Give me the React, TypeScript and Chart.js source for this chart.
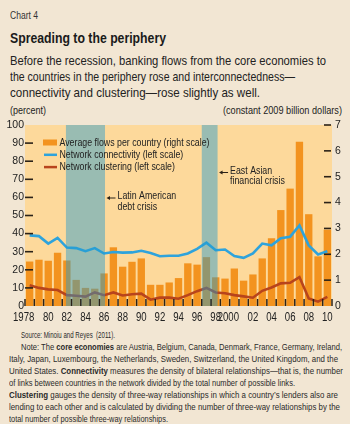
import React, { useEffect, useLayoutEffect, useRef } from 'react';
import { Chart, registerables } from 'chart.js';

Chart.register(...registerables);

const FONT = '"Liberation Sans", Arial, sans-serif';
const SX = 0.8; // horizontal condensing of canvas text

const years = ['1978','1979','1980','1981','1982','1983','1984','1985','1986','1987','1988','1989','1990','1991','1992','1993','1994','1995','1996','1997','1998','1999','2000','2001','2002','2003','2004','2005','2006','2007','2008','2009','2010'];
const tickLabels = ['1978','80','82','84','86','88','90','92','94','96','98','2000','02','04','06','08','10'];

// Average flows per country, constant 2009 billion dollars (right scale)
const flows = [1.72,1.79,1.75,2.06,1.76,1.01,0.70,0.67,1.26,2.27,1.52,1.71,1.84,0.82,0.82,0.91,1.08,1.65,1.60,1.89,1.11,1.06,1.45,0.98,1.22,1.84,2.62,3.71,4.54,6.35,3.55,1.92,2.95];
// Network connectivity, percent (left scale)
const connectivity = [39,38.6,34.5,37.6,32.3,32,30.3,32,29,29.8,29.5,29.6,30.5,29.3,27.5,27.8,27.8,29,31.6,35,30.8,31.2,27.6,26.6,29,34.5,33.5,37.5,38.3,44.5,33.5,28.5,30.3];
// Network clustering, percent (left scale)
const clustering = [11.5,10,9.2,8.8,6,5.7,5.2,7.5,6,7.5,5.8,6.5,6.8,3.5,4.6,4.6,4.0,6,8.2,10,7.5,7,6,5.3,4.6,8.4,10.2,12.5,12.8,16,4.2,2.4,5];

const seriesNames = ['Average flows per country (right scale)', 'Network connectivity (left scale)', 'Network clustering (left scale)'];
const crisisStart = [1981.9, 1996.5];
const crisisEnd = [1986.1, 1998.2];
const crisisLabels = [['Latin American', 'debt crisis'], ['East Asian', 'financial crisis']];

const subtitleLines = [
  'Before the recession, banking flows from the core economies to',
  'the countries in the periphery rose and interconnectedness\u2014',
  'connectivity and clustering\u2014rose slightly as well.',
];
const subtitleWidths = [316, 285, 250];

const COL_BAR = '#f3931f';
const COL_CONN = '#2ea3dc';
const COL_CLUS = '#b8441c';
const COL_INK = '#2b2218';

function condensedText(ctx: CanvasRenderingContext2D, text: string, x: number, y: number, align: 'left' | 'center') {
  ctx.save();
  ctx.translate(x, y);
  ctx.scale(SX, 1);
  ctx.textAlign = align;
  ctx.fillText(text, 0, 0);
  ctx.restore();
}

const decor = {
  id: 'decor',
  beforeDatasetsDraw(chart: any) {
    const { ctx, chartArea: a } = chart;
    ctx.save();
    ctx.fillStyle = '#fdd99b';
    ctx.fillRect(a.left, a.top, a.right - a.left, a.bottom - a.top);
    ctx.restore();
  },
  afterDatasetsDraw(chart: any) {
    const { ctx, chartArea: a, scales } = chart;
    const x = scales.x, y = scales.y, y1 = scales.y1;
    const first = Number(years[0]);
    ctx.save();
    // crisis shading
    ctx.fillStyle = 'rgba(35,155,205,0.46)';
    crisisStart.forEach((s, i) => {
      const x0 = x.getPixelForValue(s - first);
      const x1 = x.getPixelForValue(crisisEnd[i] - first);
      ctx.fillRect(x0, a.top, x1 - x0, a.bottom - a.top);
    });
    // axis dashes
    ctx.strokeStyle = COL_INK;
    ctx.lineWidth = 1.6;
    y.ticks.forEach((t: any) => {
      if (t.value > 0 && t.value < 100) {
        const py = y.getPixelForValue(t.value);
        ctx.beginPath(); ctx.moveTo(a.left, py); ctx.lineTo(a.left + 8, py); ctx.stroke();
      }
    });
    y1.ticks.forEach((t: any) => {
      if (t.value > 0) {
        const py = y1.getPixelForValue(t.value);
        ctx.beginPath(); ctx.moveTo(a.right - 8, py); ctx.lineTo(a.right - 1, py); ctx.stroke();
      }
    });
    // bottom ticks between years
    ctx.lineWidth = 1.5;
    for (let i = 0; i <= years.length; i++) {
      const px = x.getPixelForValue(i - 0.5);
      ctx.beginPath(); ctx.moveTo(px, a.bottom - 7); ctx.lineTo(px, a.bottom); ctx.stroke();
    }
    // x labels
    ctx.fillStyle = '#222';
    ctx.font = '12px ' + FONT;
    ctx.textBaseline = 'middle';
    tickLabels.forEach((lab, k) => {
      const px = x.getPixelForValue(k * 2) + (lab.length === 4 ? -6 : 0);
      condensedText(ctx, lab, px, a.bottom + 12, 'center');
    });
    // legend
    ctx.font = '11px ' + FONT;
    const lx = a.left + 18, ly = a.top + 17.5;
    seriesNames.forEach((n, k) => {
      const ry = ly + k * 12.3;
      if (k === 0) {
        ctx.fillStyle = COL_BAR;
        ctx.fillRect(lx, ry - 3, 14, 6);
      } else {
        ctx.strokeStyle = k === 1 ? COL_CONN : COL_CLUS;
        ctx.lineWidth = 2.5;
        ctx.beginPath(); ctx.moveTo(lx + 1, ry); ctx.lineTo(lx + 14, ry); ctx.stroke();
      }
      ctx.fillStyle = '#222';
      condensedText(ctx, n, lx + 16.5, ry, 'left');
    });
    // crisis annotations
    const annY = [a.top + 73, a.top + 47.5];
    crisisEnd.forEach((e, i) => {
      const tip = x.getPixelForValue(e - first) + 1.5;
      const ay = annY[i];
      ctx.strokeStyle = COL_INK; ctx.fillStyle = COL_INK; ctx.lineWidth = 1;
      ctx.beginPath(); ctx.moveTo(tip + 2, ay); ctx.lineTo(tip + 9, ay); ctx.stroke();
      ctx.beginPath(); ctx.moveTo(tip, ay); ctx.lineTo(tip + 3.5, ay - 2); ctx.lineTo(tip + 3.5, ay + 2); ctx.closePath(); ctx.fill();
      ctx.fillStyle = '#222';
      condensedText(ctx, crisisLabels[i][0], tip + 11, ay - 2, 'left');
      condensedText(ctx, crisisLabels[i][1], tip + 11, ay + 8.5, 'left');
    });
    ctx.restore();
  },
};

function ChartCanvas() {
  const ref = useRef<HTMLCanvasElement>(null);
  useEffect(() => {
    const canvas = ref.current!;
    const chart = new Chart(canvas, {
      data: {
        labels: years,
        datasets: [
          { type: 'line', label: seriesNames[1], data: connectivity, yAxisID: 'y', borderColor: COL_CONN, borderWidth: 2.6, pointRadius: 0, tension: 0, order: 1 } as any,
          { type: 'line', label: seriesNames[2], data: clustering, yAxisID: 'y', borderColor: COL_CLUS, borderWidth: 2.6, pointRadius: 0, tension: 0, order: 2 } as any,
          { type: 'bar', label: seriesNames[0], data: flows, yAxisID: 'y1', backgroundColor: COL_BAR, barPercentage: 0.79, categoryPercentage: 1, order: 3 } as any,
        ],
      },
      options: {
        responsive: false,
        animation: false,
        devicePixelRatio: 1,
        layout: { padding: { top: 10, left: 0, right: 0, bottom: 0 } },
        plugins: { legend: { display: false }, tooltip: { enabled: false } },
        scales: {
          x: {
            type: 'category', offset: true,
            grid: { display: false, drawTicks: false }, border: { display: false },
            ticks: { display: false },
            afterFit: (s: any) => { s.height = 21; },
          },
          y: {
            position: 'left', min: 0, max: 100,
            grid: { display: false, drawTicks: false }, border: { display: false },
            ticks: { stepSize: 10, padding: 1, color: '#222', font: { family: FONT, size: 10.5 } },
            afterFit: (s: any) => { s.width = 25; },
          },
          y1: {
            position: 'right', min: 0, max: 7,
            grid: { display: false, drawTicks: false }, border: { display: false },
            ticks: { stepSize: 1, padding: 3, color: '#222', font: { family: FONT, size: 10.5 } },
            afterFit: (s: any) => { s.width = 18; },
          },
        },
      } as any,
      plugins: [decor],
    });
    return () => chart.destroy();
  }, []);
  return <canvas ref={ref} width={350} height={212} style={{ position: 'absolute', left: 0, top: 115, width: 350, height: 212 }} />;
}

function Fit({ w, left, top, style, children }: { w: number; left: number; top: number; style?: React.CSSProperties; children: React.ReactNode }) {
  const ref = useRef<HTMLDivElement>(null);
  useLayoutEffect(() => {
    const el = ref.current!;
    el.style.transform = 'none';
    const nat = el.getBoundingClientRect().width;
    if (nat > 0) el.style.transform = `scaleX(${w / nat})`;
  });
  return (
    <div ref={ref} style={{ position: 'absolute', left, top, whiteSpace: 'nowrap', transformOrigin: 'left top', ...style }}>
      {children}
    </div>
  );
}

const noteLines: { x: number; w: number; c: React.ReactNode }[] = [
  { x: 21, w: 94, c: <>Source: Minoiu and Reyes&nbsp; (2011).</> },
  { x: 21, w: 321, c: <>Note: The <b>core economies</b> are Austria, Belgium, Canada, Denmark, France, Germany, Ireland,</> },
  { x: 9, w: 329, c: <>Italy, Japan, Luxembourg, the Netherlands, Sweden, Switzerland, the United Kingdom, and the</> },
  { x: 9, w: 334, c: <>United States. <b>Connectivity</b> measures the density of bilateral relationships{'\u2014'}that is, the number</> },
  { x: 9, w: 286, c: <>of links between countries in the network divided by the total number of possible links.</> },
  { x: 9, w: 329, c: <><b>Clustering</b> gauges the density of three-way relationships in which a country{'\u2019'}s lenders also are</> },
  { x: 9, w: 331, c: <>lending to each other and is calculated by dividing the number of three-way relationships by the</> },
  { x: 9, w: 159, c: <>total number of possible three-way relationships.</> },
];

export default function App() {
  return (
    <div style={{ position: 'absolute', left: 0, top: 0, width: 350, height: 424, background: '#f2e6d3', fontFamily: FONT, color: '#222', overflow: 'hidden' }}>
      <Fit w={28} left={10} top={10} style={{ fontSize: 10, lineHeight: '12px', color: '#333' }}>Chart 4</Fit>
      <Fit w={156} left={10} top={29} style={{ fontSize: 14.5, fontWeight: 'bold', lineHeight: '18px', color: '#1a1a1a' }}>Spreading to the periphery</Fit>
      {subtitleLines.map((l, i) => (
        <Fit key={i} w={subtitleWidths[i]} left={10} top={53 + i * 16} style={{ fontSize: 13, lineHeight: '16px' }}>{l}</Fit>
      ))}
      <Fit w={36} left={10} top={104} style={{ fontSize: 11, lineHeight: '12px' }}>(percent)</Fit>
      <Fit w={119} left={223} top={104} style={{ fontSize: 11, lineHeight: '12px' }}>(constant 2009 billion dollars)</Fit>
      <ChartCanvas />
      {noteLines.map((n, i) => (
        <Fit key={i} w={n.w} left={n.x} top={329 + i * 12} style={{ fontSize: 9, lineHeight: '12px', color: '#2a2a2a' }}>{n.c}</Fit>
      ))}
    </div>
  );
}
